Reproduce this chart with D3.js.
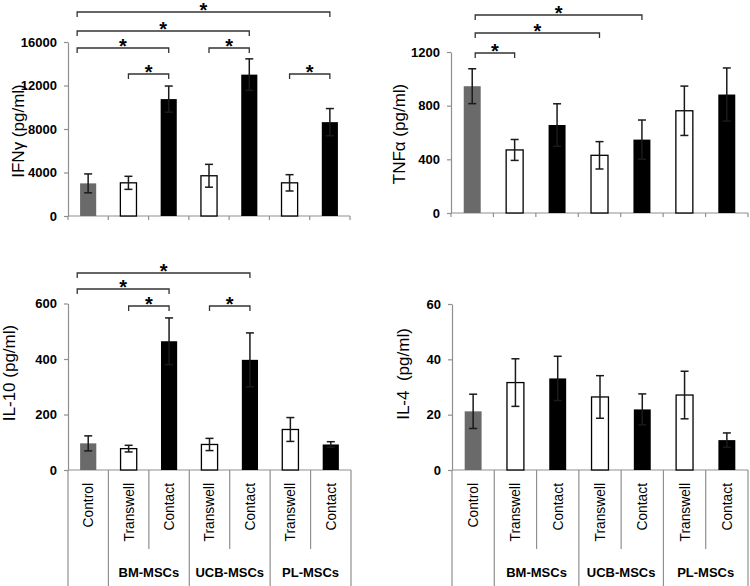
<!DOCTYPE html>
<html>
<head>
<meta charset="utf-8">
<script src="https://cdn.jsdelivr.net/npm/d3@7"></script>
<style>
  html, body { margin: 0; padding: 0; background: #fff; }
  svg { display: block; }
  text { font-family: "Liberation Sans", Arial, sans-serif; }
</style>
</head>
<body>
<svg id="chart" width="750" height="586"></svg>
<script>
// ---------- DATA ----------
const categories = ["Control", "Transwell", "Contact", "Transwell", "Contact", "Transwell", "Contact"];
const barTypes   = ["control", "transwell", "contact", "transwell", "contact", "transwell", "contact"];
const groupLabels = ["BM-MSCs", "UCB-MSCs", "PL-MSCs"];
const groupSpans  = [[1, 2], [3, 4], [5, 6]];

const ifnValues = [3000, 3050, 10750, 3700, 13000, 3050, 8630];
const ifnErrors = [870, 600, 1200, 1050, 1450, 750, 1250];
const ifnTicks  = [0, 4000, 8000, 12000, 16000];
const ifnBrackets = [[0, 6, 0], [0, 4, 1], [0, 2, 2], [3, 4, 2], [1, 2, 3], [5, 6, 3]];

const tnfValues = [945, 470, 656, 430, 547, 762, 883];
const tnfErrors = [130, 78, 158, 102, 146, 184, 198];
const tnfTicks  = [0, 400, 800, 1200];
const tnfBrackets = [[0, 4, 0], [0, 3, 1], [0, 1, 2]];

const il10Values = [96, 77, 464, 92, 397, 146, 92];
const il10Errors = [27, 12, 84, 22, 97, 43, 10];
const il10Ticks  = [0, 200, 400, 600];
const il10Brackets = [[0, 4, 0], [0, 2, 1], [1, 2, 2], [3, 4, 2]];

const il4Values = [21.2, 31.6, 33.1, 26.4, 21.9, 27.1, 10.8];
const il4Errors = [6.2, 8.6, 8.0, 7.7, 5.6, 8.6, 2.6];
const il4Ticks  = [0, 20, 40, 60];
const il4Brackets = [];

// ---------- LAYOUT / STYLE ----------
const fill = { control: "#6a6a6a", transwell: "#ffffff", contact: "#000000" };
const axisColor = "#8f8f8f";

const panels = [
  { title: "IFN\u03b3 (pg/ml)", values: ifnValues, errors: ifnErrors, ticks: ifnTicks, brackets: ifnBrackets,
    x0: 68, x1: 350, base: 216, top: 42, titleX: 18, titleY: 131, levels: [12, 31, 48, 74], ctrlShift: -11, labels: false },
  { title: "TNF\u03b1 (pg/ml)", values: tnfValues, errors: tnfErrors, ticks: tnfTicks, brackets: tnfBrackets,
    x0: 451, x1: 748, base: 213, top: 52, titleX: 399, titleY: 134, levels: [15, 33, 53], ctrlShift: 3, labels: false },
  { title: "IL-10 (pg/ml)", values: il10Values, errors: il10Errors, ticks: il10Ticks, brackets: il10Brackets,
    x0: 68, x1: 351, base: 470, top: 303.5, titleX: 9, titleY: 373, levels: [273, 289, 306], ctrlShift: -11, labels: true },
  { title: "IL-4  (pg/ml)", values: il4Values, errors: il4Errors, ticks: il4Ticks, brackets: il4Brackets,
    x0: 452, x1: 748, base: 470, top: 304, titleX: 403, titleY: 374, levels: [], ctrlShift: 0, labels: true }
];

const svg = d3.select("#chart");

panels.forEach(p => {
  const g = svg.append("g");
  const x = d3.scaleBand().domain(d3.range(categories.length)).range([p.x0, p.x1]).padding(0);
  const bw = x.bandwidth();
  const barW = bw * 0.4;
  const cx = i => x(i) + bw / 2;
  const y = d3.scaleLinear().domain([0, d3.max(p.ticks)]).range([p.base, p.top]);

  // Y axis
  const ya = g.append("g")
    .attr("transform", `translate(${p.x0},0)`)
    .call(d3.axisLeft(y).tickValues(p.ticks).tickSize(4).tickSizeOuter(0).tickPadding(7).tickFormat(d3.format("d")));
  ya.select(".domain").attr("stroke", axisColor).attr("stroke-width", 1.2);
  ya.selectAll(".tick line").attr("stroke", axisColor).attr("stroke-width", 1.2);
  ya.selectAll(".tick text").attr("fill", "#000").style("font-size", "13px").style("font-weight", "bold")
    .style("font-family", "'Liberation Sans', Arial, sans-serif");

  // Y title
  g.append("text")
    .attr("transform", `translate(${p.titleX},${p.titleY}) rotate(-90)`)
    .attr("text-anchor", "middle").attr("dy", "0.35em")
    .style("font-size", "17px").style("white-space", "pre").attr("xml:space", "preserve")
    .text(p.title);

  // X baseline
  g.append("line").attr("x1", p.x0).attr("x2", p.x1).attr("y1", y(0)).attr("y2", y(0))
    .attr("stroke", axisColor).attr("stroke-width", 1.2);

  const boundaries = d3.range(categories.length + 1);
  const bx = k => (k < categories.length ? x(k) : p.x1);

  if (!p.labels) {
    g.selectAll(".xt").data(boundaries).join("line")
      .attr("x1", k => bx(k)).attr("x2", k => bx(k))
      .attr("y1", y(0)).attr("y2", y(0) + 4)
      .attr("stroke", axisColor).attr("stroke-width", 1.2);
  } else {
    // dividers: group edges full height, inner boundaries shorter
    const inner = new Set(groupSpans.map(s => s[1]));
    g.selectAll(".xd").data(boundaries).join("line")
      .attr("x1", k => bx(k)).attr("x2", k => bx(k))
      .attr("y1", y(0)).attr("y2", k => inner.has(k) ? y(0) + 79 : 586)
      .attr("stroke", axisColor).attr("stroke-width", 1.2);

    g.selectAll(".cl").data(categories).join("text")
      .attr("transform", (d, i) => `translate(${cx(i)},${y(0) + 13}) rotate(-90)`)
      .attr("text-anchor", "end").attr("dy", "0.36em")
      .style("font-size", "13.8px")
      .text(d => d);

    g.selectAll(".gl").data(groupLabels).join("text")
      .attr("x", (d, i) => (x(groupSpans[i][0]) + bx(groupSpans[i][1] + 1)) / 2)
      .attr("y", y(0) + 107)
      .attr("text-anchor", "middle")
      .style("font-size", "13px").style("font-weight", "bold")
      .text(d => d);
  }

  // Bars
  g.selectAll(".bar").data(p.values).join("rect")
    .attr("x", (d, i) => cx(i) - barW / 2)
    .attr("y", d => y(d))
    .attr("width", barW)
    .attr("height", d => y(0) - y(d))
    .attr("fill", (d, i) => fill[barTypes[i]])
    .attr("stroke", (d, i) => barTypes[i] === "transwell" ? "#000" : "none")
    .attr("stroke-width", 1.3);

  // Error bars
  const capW = 8;
  const eb = g.selectAll(".err").data(p.values).join("g").attr("stroke", "#1a1a1a").attr("stroke-width", 1.5);
  eb.append("line")
    .attr("x1", (d, i) => cx(i)).attr("x2", (d, i) => cx(i))
    .attr("y1", (d, i) => y(d - p.errors[i])).attr("y2", (d, i) => y(d + p.errors[i]));
  eb.append("line")
    .attr("x1", (d, i) => cx(i) - capW / 2).attr("x2", (d, i) => cx(i) + capW / 2)
    .attr("y1", (d, i) => y(d + p.errors[i])).attr("y2", (d, i) => y(d + p.errors[i]));
  eb.append("line")
    .attr("x1", (d, i) => cx(i) - capW / 2).attr("x2", (d, i) => cx(i) + capW / 2)
    .attr("y1", (d, i) => y(d - p.errors[i])).attr("y2", (d, i) => y(d - p.errors[i]));

  // Significance brackets
  const bxEnd = i => cx(i) + (i === 0 ? p.ctrlShift : 0);
  p.brackets.forEach(([a, b, lvl]) => {
    const ly = p.levels[lvl];
    const xa = bxEnd(a), xb = bxEnd(b);
    g.append("path")
      .attr("d", `M${xa},${ly + 5}V${ly}H${xb}V${ly + 5}`)
      .attr("fill", "none").attr("stroke", "#333").attr("stroke-width", 1.3);
    g.append("text")
      .attr("x", (xa + xb) / 2).attr("y", ly + 5)
      .attr("text-anchor", "middle")
      .style("font-size", "20px").style("font-weight", "bold")
      .text("*");
  });
});
</script>
</body>
</html>
